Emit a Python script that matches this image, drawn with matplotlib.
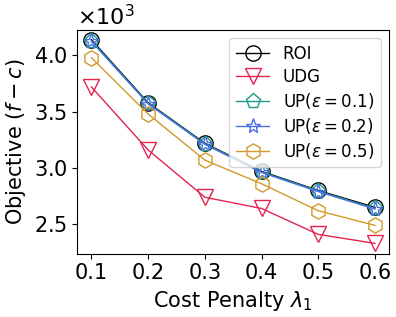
from matplotlib import pyplot as plt
from matplotlib.ticker import ScalarFormatter

# cost penalty values
lam = [0.1, 0.2, 0.3, 0.4, 0.5, 0.6]

# objective values (f - c)
roi = [4140, 3580, 3220, 2970, 2800, 2650]
udg = [3720, 3160, 2740, 2640, 2410, 2330]
up01 = [4130, 3575, 3215, 2965, 2795, 2640]
up02 = [4125, 3570, 3210, 2960, 2790, 2635]
up05 = [3980, 3480, 3070, 2860, 2620, 2490]

series = [
    ('ROI', roi, 'black', 'o'),
    ('UDG', udg, '#e3244f', 'v'),
    (r'UP($\epsilon=0.1$)', up01, '#1a9a8a', 'p'),
    (r'UP($\epsilon=0.2$)', up02, '#4a6fe3', '*'),
    (r'UP($\epsilon=0.5$)', up05, '#d19a2a', 'h'),
]

fig, ax = plt.subplots(figsize=(3.96, 3.17), dpi=100)
for name, vals, col, mk in series:
    ax.plot(lam, vals, color=col, marker=mk, markersize=11, markerfacecolor='none',
            markeredgewidth=1.0, linewidth=1.0, label=name)

ax.set_xticks(lam)
fmt = ScalarFormatter(useMathText=True)
fmt.set_powerlimits((0, 0))
ax.yaxis.set_major_formatter(fmt)
ax.set_yticks([2500, 3000, 3500, 4000])
ax.tick_params(labelsize=15)
ax.yaxis.get_offset_text().set_fontsize(16)
ax.set_xlabel(r'Cost Penalty $\lambda_1$', fontsize=15)
ax.set_ylabel(r'Objective $(f-c)$', fontsize=15)
ax.legend(loc='upper right', fontsize=12, labelspacing=0.3)
plt.tight_layout(pad=0.3)
plt.savefig('out.png')
